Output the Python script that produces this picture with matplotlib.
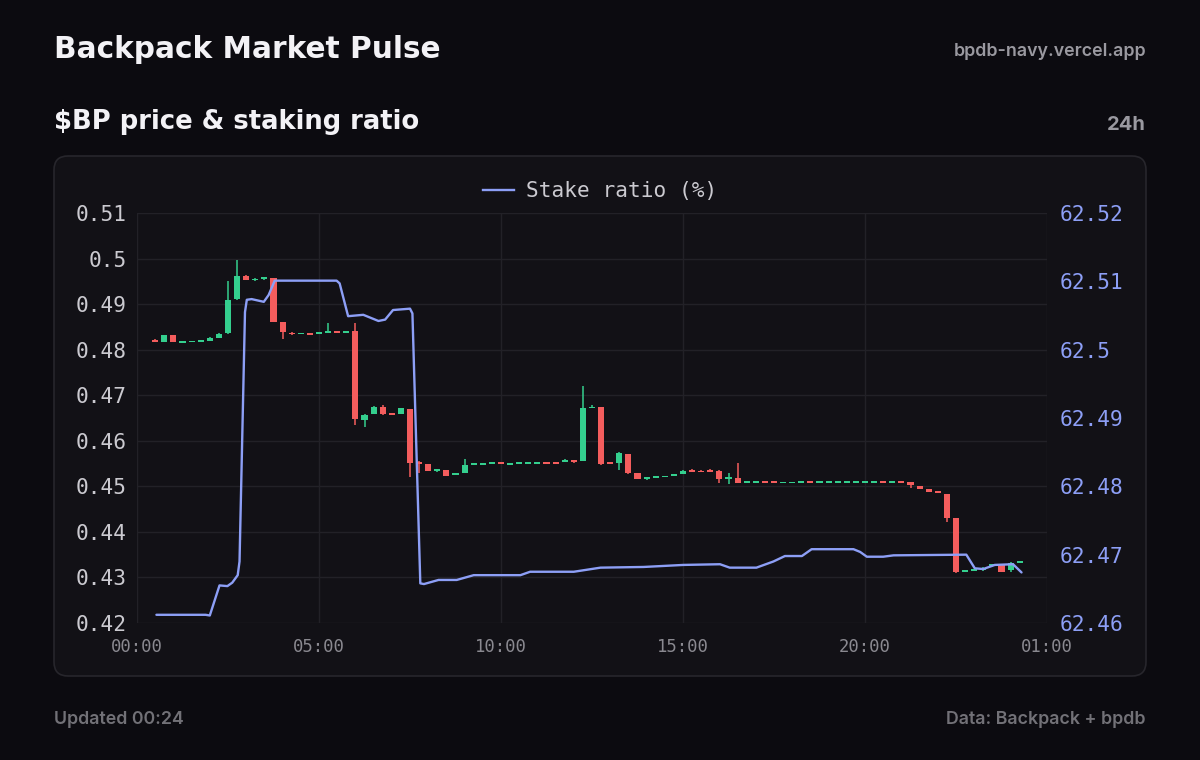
import matplotlib
matplotlib.use("Agg")
import matplotlib.pyplot as plt
import matplotlib.dates as mdates
from matplotlib.patches import FancyBboxPatch
from matplotlib.lines import Line2D
from matplotlib.transforms import IdentityTransform
import pandas as pd

# ---------------- data ----------------
candle_start = "2024-06-01 00:30"
candle_freq = "15min"
opens = [0.4822, 0.4816, 0.4832, 0.4817, 0.4818, 0.4818, 0.4819, 0.4826, 0.4836, 0.4911,
         0.4962, 0.4953, 0.4956, 0.4957, 0.4860, 0.4836, 0.4835, 0.4836, 0.4835, 0.4837,
         0.4839, 0.4837, 0.4841, 0.4646, 0.4658, 0.4675, 0.4659, 0.4658, 0.4670, 0.4552,
         0.4548, 0.4535, 0.4535, 0.4526, 0.4529, 0.4548, 0.4549, 0.4550, 0.4551, 0.4549,
         0.4550, 0.4551, 0.4552, 0.4552, 0.4552, 0.4553, 0.4557, 0.4556, 0.4672, 0.4675,
         0.4551, 0.4551, 0.4570, 0.4530, 0.4518, 0.4519, 0.4521, 0.4525, 0.4527, 0.4535,
         0.4533, 0.4535, 0.4534, 0.4517, 0.4518, 0.4509, 0.4509, 0.4510, 0.4510, 0.4508,
         0.4508, 0.4509, 0.4511, 0.4509, 0.4509, 0.4509, 0.4509, 0.4509, 0.4509, 0.4509,
         0.4510, 0.4509, 0.4510, 0.4510, 0.4501, 0.4494, 0.4489, 0.4484, 0.4431, 0.4313,
         0.4315, 0.4316, 0.4326, 0.4327, 0.4316, 0.4333]
highs = [0.4823, 0.4833, 0.4833, 0.4818, 0.4818, 0.4819, 0.4827, 0.4836, 0.4950, 0.4997,
         0.4963, 0.4957, 0.4958, 0.4958, 0.4860, 0.4839, 0.4836, 0.4836, 0.4837, 0.4858,
         0.4839, 0.4840, 0.4858, 0.4658, 0.4676, 0.4678, 0.4659, 0.4672, 0.4670, 0.4556,
         0.4549, 0.4537, 0.4535, 0.4528, 0.4559, 0.4550, 0.4550, 0.4551, 0.4551, 0.4550,
         0.4551, 0.4552, 0.4552, 0.4552, 0.4552, 0.4559, 0.4557, 0.4721, 0.4679, 0.4675,
         0.4553, 0.4576, 0.4570, 0.4530, 0.4519, 0.4520, 0.4522, 0.4526, 0.4535, 0.4537,
         0.4535, 0.4537, 0.4535, 0.4529, 0.4551, 0.4510, 0.4510, 0.4510, 0.4510, 0.4509,
         0.4509, 0.4511, 0.4511, 0.4510, 0.4510, 0.4510, 0.4510, 0.4510, 0.4510, 0.4510,
         0.4510, 0.4510, 0.4510, 0.4510, 0.4501, 0.4494, 0.4489, 0.4484, 0.4431, 0.4315,
         0.4317, 0.4322, 0.4328, 0.4327, 0.4334, 0.4334]
lows = [0.4816, 0.4816, 0.4816, 0.4816, 0.4817, 0.4818, 0.4819, 0.4826, 0.4835, 0.4910,
        0.4952, 0.4951, 0.4954, 0.4860, 0.4824, 0.4832, 0.4834, 0.4834, 0.4835, 0.4837,
        0.4837, 0.4837, 0.4635, 0.4631, 0.4658, 0.4657, 0.4657, 0.4658, 0.4521, 0.4529,
        0.4533, 0.4531, 0.4522, 0.4526, 0.4529, 0.4548, 0.4549, 0.4550, 0.4549, 0.4549,
        0.4550, 0.4551, 0.4551, 0.4551, 0.4551, 0.4553, 0.4551, 0.4556, 0.4672, 0.4547,
        0.4549, 0.4535, 0.4527, 0.4516, 0.4514, 0.4519, 0.4521, 0.4525, 0.4527, 0.4532,
        0.4532, 0.4532, 0.4508, 0.4505, 0.4508, 0.4509, 0.4509, 0.4509, 0.4508, 0.4508,
        0.4508, 0.4508, 0.4509, 0.4509, 0.4509, 0.4509, 0.4509, 0.4509, 0.4509, 0.4509,
        0.4509, 0.4509, 0.4509, 0.4496, 0.4494, 0.4488, 0.4486, 0.4422, 0.4309, 0.4313,
        0.4315, 0.4315, 0.4322, 0.4313, 0.4313, 0.4333]
closes = [0.4817, 0.4832, 0.4816, 0.4818, 0.4818, 0.4819, 0.4826, 0.4835, 0.4909, 0.4962,
          0.4953, 0.4955, 0.4957, 0.4860, 0.4838, 0.4835, 0.4836, 0.4834, 0.4837, 0.4839,
          0.4837, 0.4840, 0.4647, 0.4656, 0.4675, 0.4658, 0.4657, 0.4671, 0.4552, 0.4550,
          0.4534, 0.4537, 0.4523, 0.4527, 0.4546, 0.4549, 0.4550, 0.4551, 0.4550, 0.4550,
          0.4551, 0.4552, 0.4552, 0.4551, 0.4551, 0.4558, 0.4553, 0.4673, 0.4674, 0.4549,
          0.4550, 0.4573, 0.4530, 0.4516, 0.4519, 0.4520, 0.4522, 0.4526, 0.4534, 0.4534,
          0.4532, 0.4534, 0.4516, 0.4518, 0.4508, 0.4510, 0.4510, 0.4509, 0.4509, 0.4509,
          0.4509, 0.4510, 0.4510, 0.4510, 0.4510, 0.4510, 0.4510, 0.4510, 0.4510, 0.4510,
          0.4509, 0.4510, 0.4509, 0.4502, 0.4494, 0.4488, 0.4487, 0.4431, 0.4311, 0.4315,
          0.4316, 0.4320, 0.4328, 0.4313, 0.4332, 0.4334]

stake_times = ["00:32", "01:53", "02:00", "02:16", "02:29", "02:37", "02:46", "02:49", "02:58",
               "03:01", "03:09", "03:29", "03:37", "03:47", "05:29", "05:34", "05:48", "06:13",
               "06:38", "06:49", "07:02", "07:30", "07:34", "07:47", "07:53", "08:17", "08:47",
               "09:15", "10:32", "10:48", "12:00", "12:44", "13:55", "15:01", "16:01", "16:17",
               "17:01", "17:29", "17:48", "18:16", "18:32", "19:41", "19:52", "20:03", "20:30",
               "20:47", "22:47", "23:01", "23:15", "23:34", "+00:04", "+00:18"]
stake_ratio = [62.4612, 62.4612, 62.4611, 62.4655, 62.4654, 62.4659, 62.4670, 62.4690, 62.5055,
               62.5073, 62.5074, 62.5070, 62.5080, 62.5101, 62.5101, 62.5097, 62.5049, 62.5051,
               62.5042, 62.5044, 62.5058, 62.5060, 62.5053, 62.4658, 62.4657, 62.4663, 62.4663,
               62.4670, 62.4670, 62.4675, 62.4675, 62.4681, 62.4682, 62.4685, 62.4686, 62.4681,
               62.4681, 62.4690, 62.4698, 62.4698, 62.4708, 62.4708, 62.4704, 62.4697, 62.4697,
               62.4699, 62.4700, 62.4680, 62.4679, 62.4685, 62.4686, 62.4674]

price_ticks = [0.42, 0.43, 0.44, 0.45, 0.46, 0.47, 0.48, 0.49, 0.50, 0.51]
price_labels = ["0.42", "0.43", "0.44", "0.45", "0.46", "0.47", "0.48", "0.49", "0.5", "0.51"]
ratio_ticks = [62.46, 62.47, 62.48, 62.49, 62.50, 62.51, 62.52]
ratio_labels = ["62.46", "62.47", "62.48", "62.49", "62.5", "62.51", "62.52"]
x_tick_labels = ["00:00", "05:00", "10:00", "15:00", "20:00", "01:00"]

# ---------------- style ----------------
BG = "#0c0b10"
CARD = "#121116"
CARD_EDGE = "#27262c"
GRID = "#222127"
UP = "#34cf8e"
DOWN = "#f45d5d"
LINE = "#8d9ff6"
TXT = "#f3f2f6"
MUTED = "#9a99a0"
MONO = "DejaVu Sans Mono"
HEAD = ["DejaVu Sans"]
SANS = ["Inter", "DejaVu Sans"]

W, H = 1200, 760
fig = plt.figure(figsize=(W / 100, H / 100), dpi=100, facecolor=BG)

def fx(px):
    return px / W

def fy(py):
    return 1 - py / H

# card (pixel coords)
card = FancyBboxPatch((54, H - 676), 1092, 520,
                      boxstyle="round,pad=0,rounding_size=14",
                      transform=IdentityTransform(), facecolor=CARD,
                      edgecolor=CARD_EDGE, linewidth=1.2, zorder=-5)
fig.patches.append(card)

# header / footer texts
fig.text(fx(54), fy(50), "Backpack Market Pulse", fontsize=21.3, fontweight="bold",
         color=TXT, family=HEAD, va="center", ha="left")
fig.text(fx(1146), fy(51), "bpdb-navy.vercel.app", fontsize=12.8, fontweight="semibold",
         color=MUTED, family=SANS, va="center", ha="right")
fig.text(fx(54), fy(122), "$BP price & staking ratio", fontsize=18.6, fontweight="bold",
         color=TXT, family=HEAD, va="center", ha="left")
fig.text(fx(1146), fy(125), "24h", fontsize=14.5, fontweight="bold",
         color=MUTED, family=SANS, va="center", ha="right")
fig.text(fx(54), fy(719), "Updated 00:24", fontsize=12.8, fontweight="semibold",
         color="#727177", family=SANS, va="center", ha="left")
fig.text(fx(1146), fy(719), "Data: Backpack + bpdb", fontsize=12.8, fontweight="semibold",
         color="#727177", family=SANS, va="center", ha="right")

# axes
ax = fig.add_axes([fx(137), fy(623), (1047 - 137) / W, (623 - 213) / H])
ax.set_facecolor("none")
ax2 = ax.twinx()
ax2.set_facecolor("none")

ctimes = pd.date_range(candle_start, periods=len(opens), freq=candle_freq)
cx = mdates.date2num(ctimes)
day0 = pd.Timestamp(candle_start).normalize()

def parse_t(s):
    if s.startswith("+"):
        return day0 + pd.Timedelta(days=1) + pd.Timedelta(s[1:] + ":00")
    return day0 + pd.Timedelta(s + ":00")

sx = mdates.date2num([parse_t(s) for s in stake_times])

body_w = 0.17 / 24
min_h = 0.00042
for x, o, h, l, c in zip(cx, opens, highs, lows, closes):
    col = UP if c >= o else DOWN
    ax.vlines(x, l, h, color=col, linewidth=1.1, zorder=3)
    bot = min(o, c)
    hh = abs(c - o)
    if hh < min_h:
        bot = (o + c) / 2 - min_h / 2
        hh = min_h
    ax.bar(x, hh, bottom=bot, width=body_w, color=col, linewidth=0, zorder=4)

ax2.plot(sx, stake_ratio, color=LINE, linewidth=1.7, zorder=5,
         solid_joinstyle="round", solid_capstyle="round")

xt = mdates.date2num(pd.date_range(day0, periods=len(x_tick_labels), freq="5h"))
ax.set_xlim(xt[0], xt[-1])
ax.set_xticks(xt)
ax.set_xticklabels(x_tick_labels)
ax.set_ylim(price_ticks[0], price_ticks[-1])
ax.set_yticks(price_ticks)
ax.set_yticklabels(price_labels)
ax2.set_ylim(ratio_ticks[0], ratio_ticks[-1])
ax2.set_yticks(ratio_ticks)
ax2.set_yticklabels(ratio_labels)

ax.grid(True, color=GRID, linewidth=1.0, zorder=0)
ax.set_axisbelow(True)
for a in (ax, ax2):
    for s in a.spines.values():
        s.set_visible(False)
ax.tick_params(axis="y", length=0, pad=7.5, labelsize=15.2, labelcolor="#cbcad0")
ax.tick_params(axis="x", length=0, pad=11, labelsize=12.4, labelcolor="#8a8990")
ax2.tick_params(axis="y", length=0, pad=9, labelsize=15.2, labelcolor=LINE)
for lab in ax.get_xticklabels() + ax.get_yticklabels() + ax2.get_yticklabels():
    lab.set_family(MONO)

handle = Line2D([], [], color=LINE, linewidth=1.7)
leg = ax2.legend([handle], ["Stake ratio (%)"], loc="center",
                 bbox_to_anchor=((600 - 137) / 910, 1 + 22 / 410), frameon=False,
                 prop={"family": MONO, "size": 15.2}, handlelength=1.5,
                 handletextpad=0.55)
for t in leg.get_texts():
    t.set_color("#cbcad0")

fig.savefig("out.png", dpi=100, facecolor=BG)
